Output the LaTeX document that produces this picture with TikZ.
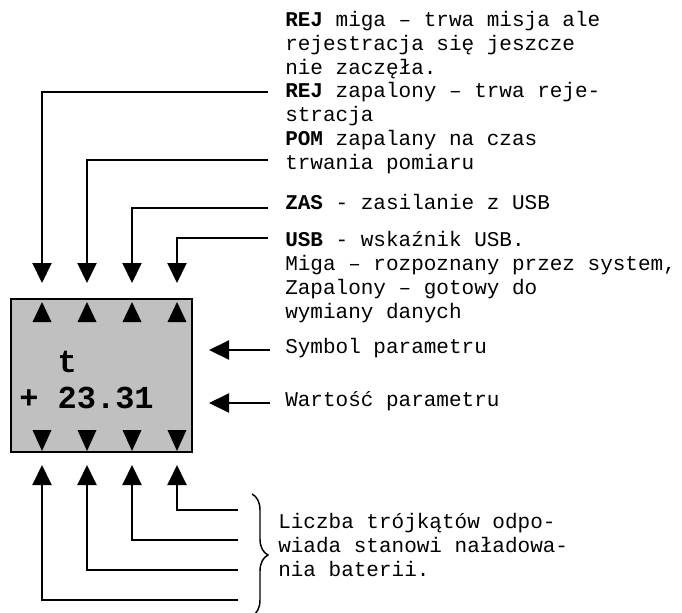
\documentclass[tikz,border=0pt]{standalone}
\usepackage{fontspec}
\setmainfont{Liberation Mono}
\usetikzlibrary{arrows.meta,decorations.pathreplacing}
\definecolor{lcdgray}{HTML}{C0C0C0}
\tikzset{
  lbl/.style={anchor=base west, inner sep=0pt, align=left, font=\fontsize{15.75}{17.8}\selectfont},
  lead/.style={line width=1.5pt, -{Triangle[width=14.25pt,length=15pt]}},
  lcd/.style={draw, line width=1.5pt, fill=lcdgray, minimum width=135.75pt, minimum height=114.75pt, inner sep=0pt},
}
\begin{document}
\begin{tikzpicture}[x=0.75pt,y=-0.75pt]
\useasboundingbox (0,0) rectangle (682,612);
% wyswietlacz
\node[lcd] (lcd) at (101.5,375.5) {};
\foreach \cx in {42,87,132,177} {
  \fill (\cx,302) -- (\cx+9.5,322) -- (\cx-9.5,322) -- cycle;
  \fill (\cx,451) -- (\cx+9.5,430) -- (\cx-9.5,430) -- cycle;
}
\node[anchor=base west, inner sep=0pt, align=left, font=\fontsize{24}{27}\selectfont\bfseries] (disp) at (19,408) {\hphantom{++}t\\+ 23.31};
\foreach \cx [count=\i] in {42,87,132,177} {
  \coordinate (in\i) at (\cx,283);
  \coordinate (out\i) at (\cx,465);
}

% opisy (base = ostatnia linia)
\node[lbl] (rejm) at (285,74.4) {\textbf{REJ} miga – trwa misja ale\\rejestracja się jeszcze\\nie zaczęła.};
\node[lbl] (rejz) at (285,121.7) {\textbf{REJ} zapalony – trwa reje-\\stracja};
\node[lbl] (pom) at (285,169) {\textbf{POM} zapalany na czas\\trwania pomiaru};
\node[lbl] (zas) at (285,209) {\textbf{ZAS} - zasilanie z USB};
\node[lbl] (usb) at (285,318) {\textbf{USB} - wskaźnik USB.\\Miga – rozpoznany przez system,\\Zapalony – gotowy do\\wymiany danych};
\node[lbl] (sym) at (285,353) {Symbol parametru};
\node[lbl] (war) at (285,406) {Wartość parametru};
\node[lbl] (bat) at (278,576) {Liczba trójkątów odpo-\\wiada stanowi naładowa-\\nia baterii.};

% strzalki
\draw[lead] (rejz.base west) ++(-17,-29.7) -| (in1);
\draw[lead] (pom.base west) ++(-17,-9) -| (in2);
\draw[lead] (zas.base west) ++(-17,-1) -| (in3);
\draw[lead] (usb.base west) ++(-17,-80) -| (in4);
\coordinate (psym) at (209,350);
\coordinate (pwar) at (209,403);
\draw[lead] (sym.base west) ++(-15,-3) -- (psym);
\draw[lead] (war.base west) ++(-15,-3) -- (pwar);

% bateria
\foreach \i/\yy in {4/510,3/540,2/570,1/600} {
  \coordinate (b\i) at (238,\yy);
  \draw[lead] (b\i) -| (out\i);
}
\draw[line width=1.1pt, decorate, decoration={brace, amplitude=12pt}] (252,494) -- (252,616);
\end{tikzpicture}
\end{document}
